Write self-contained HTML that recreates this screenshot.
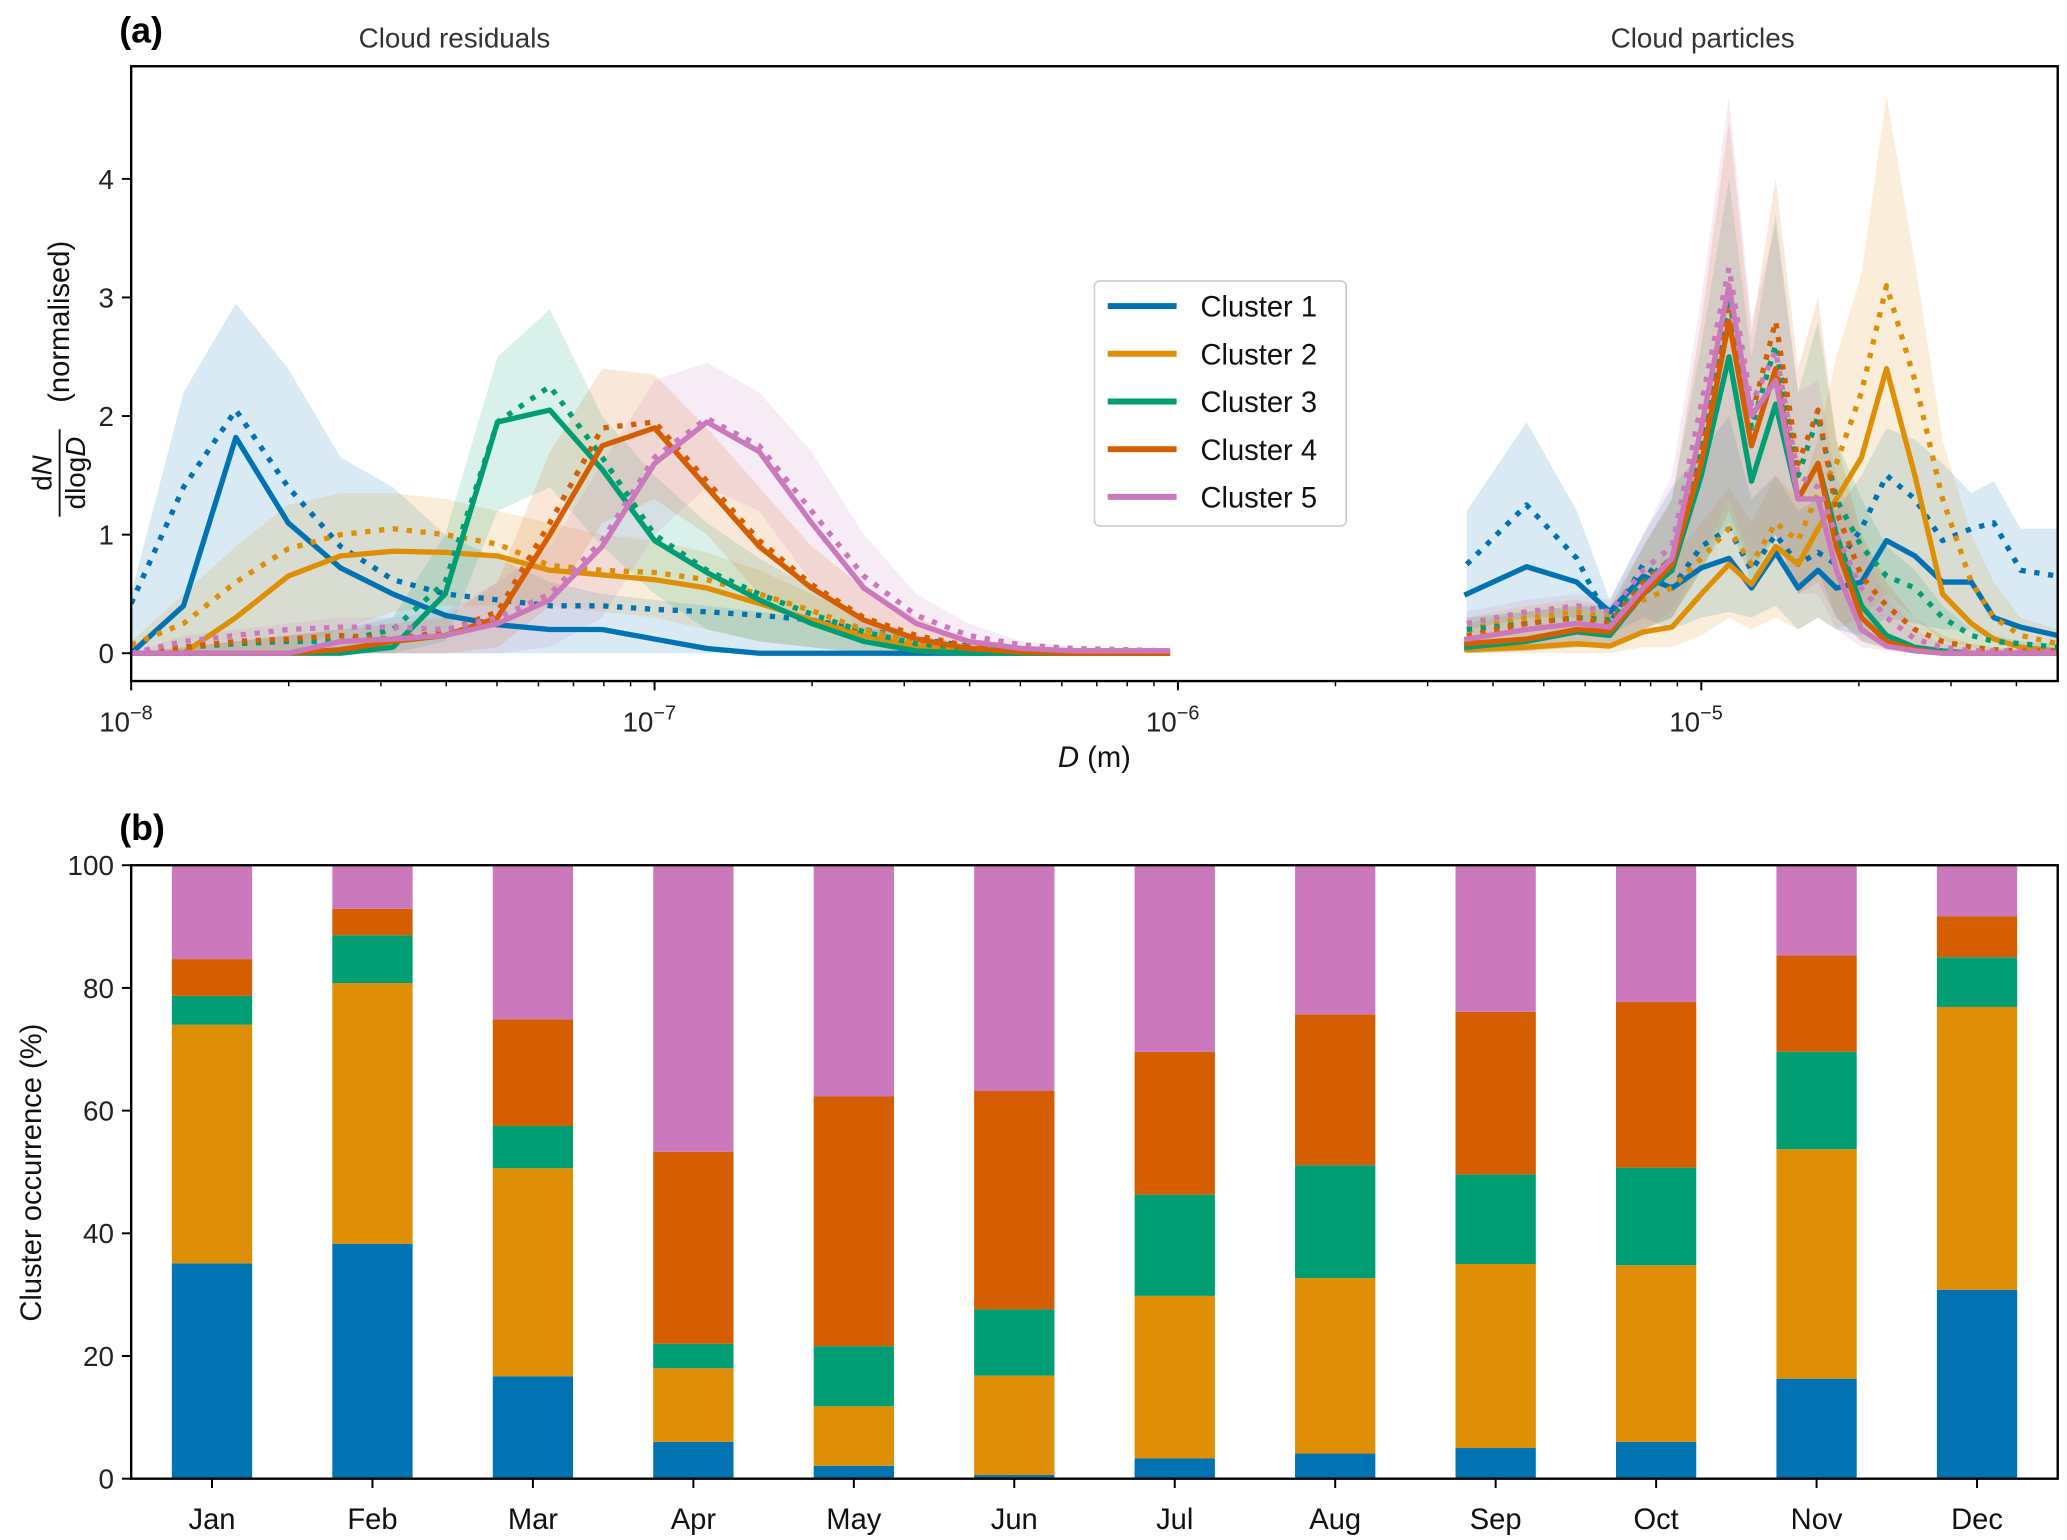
<!DOCTYPE html>
<html><head><meta charset="utf-8">
<style>
html,body{margin:0;padding:0;background:#fff;}
svg{display:block;font-family:"Liberation Sans","DejaVu Sans",sans-serif;}
</style></head>
<body>
<svg id="fig" xmlns="http://www.w3.org/2000/svg" width="2067" height="1540" viewBox="0 0 1560 1162.26">
<defs>
<clipPath id="clipA"><rect x="99" y="50" width="1454" height="464"/></clipPath>
</defs>
<g id="panelA"></g>
<g id="panelB"></g>
</svg>
<script>
// ---------- Panel (a) data ----------
const colors = ["#0173b2","#de8f05","#029e73","#d55e00","#cc78bc"];
const clusterNames = ["Cluster 1","Cluster 2","Cluster 3","Cluster 4","Cluster 5"];
const logDLeft = [-8.0,-7.9,-7.8,-7.7,-7.6,-7.5,-7.4,-7.3,-7.2,-7.1,-7.0,-6.9,-6.8,-6.7,-6.6,-6.5,-6.4,-6.3,-6.2,-6.1,-6.02];
const logDRight = [-5.448,-5.334,-5.238,-5.175,-5.111,-5.056,-5.0,-4.947,-4.904,-4.858,-4.815,-4.777,-4.742,-4.694,-4.646,-4.592,-4.539,-4.484,-4.441,-4.390,-4.319];
const solidLeft = [
 [0,0.4,1.82,1.1,0.72,0.5,0.32,0.24,0.2,0.2,0.12,0.04,0,0,0,0,0,0,0,0,0],
 [0,0,0.3,0.65,0.82,0.86,0.85,0.82,0.7,0.66,0.62,0.55,0.42,0.28,0.15,0.06,0.02,0,0,0,0],
 [0,0,0,0,0,0.05,0.5,1.95,2.05,1.55,0.95,0.68,0.45,0.25,0.1,0.02,0,0,0,0,0],
 [0,0,0,0,0.03,0.1,0.15,0.3,1.0,1.75,1.9,1.4,0.9,0.55,0.28,0.12,0.04,0.01,0,0,0],
 [0,0,0,0,0.1,0.12,0.15,0.25,0.45,0.9,1.6,1.95,1.7,1.1,0.55,0.25,0.1,0.04,0.02,0.02,0.02]];
const dottedLeft = [
 [0.42,1.4,2.05,1.4,0.9,0.62,0.5,0.45,0.4,0.4,0.37,0.35,0.32,0.28,0.2,0.12,0.06,0.03,0.02,0.02,0.02],
 [0.07,0.25,0.6,0.88,1.0,1.05,1.0,0.92,0.74,0.7,0.68,0.62,0.5,0.36,0.2,0.1,0.05,0.03,0.02,0.02,0.02],
 [0,0.05,0.08,0.1,0.1,0.2,0.6,1.95,2.25,1.65,1.0,0.7,0.5,0.33,0.18,0.08,0.04,0.02,0.02,0.02,0.02],
 [0,0.05,0.1,0.12,0.15,0.12,0.18,0.35,1.1,1.9,1.95,1.45,0.95,0.58,0.3,0.15,0.06,0.03,0.02,0.02,0.02],
 [0,0.1,0.15,0.2,0.22,0.22,0.2,0.3,0.5,0.95,1.65,1.98,1.75,1.2,0.65,0.32,0.15,0.07,0.04,0.03,0.02]];
const bandUpLeft = [
 [0.5,2.2,2.95,2.4,1.65,1.4,1.0,0.8,0.6,0.5,0.45,0.4,0.35,0.3,0.22,0.14,0.08,0.05,0.04,0.03,0.03],
 [0.1,0.5,0.9,1.25,1.35,1.35,1.3,1.2,1.1,1.0,0.95,0.85,0.7,0.5,0.3,0.15,0.08,0.05,0.04,0.03,0.03],
 [0,0.05,0.1,0.15,0.2,0.3,1.0,2.5,2.9,2.0,1.5,1.1,0.8,0.55,0.3,0.15,0.05,0.04,0.03,0.03,0.03],
 [0,0.05,0.1,0.15,0.2,0.25,0.3,0.6,1.7,2.4,2.35,1.9,1.4,0.9,0.55,0.3,0.1,0.05,0.04,0.03,0.03],
 [0,0.15,0.2,0.25,0.3,0.3,0.35,0.6,0.9,1.6,2.3,2.45,2.2,1.7,1.0,0.5,0.25,0.1,0.05,0.04,0.03]];
const bandLoLeft = [
 [0,0,0,0,0,0,0,0,0,0,0,0,0,0,0,0,0,0,0,0,0],
 [0,0,0,0,0.2,0.35,0.4,0.4,0.4,0.35,0.3,0.2,0.1,0.05,0,0,0,0,0,0,0],
 [0,0,0,0,0,0,0.1,1.2,1.4,0.9,0.5,0.2,0.1,0.05,0,0,0,0,0,0,0],
 [0,0,0,0,0,0,0,0.05,0.4,1.1,1.3,1.0,0.5,0.25,0.1,0,0,0,0,0,0],
 [0,0,0,0,0,0,0,0,0.05,0.3,1.0,1.4,1.2,0.6,0.2,0.05,0,0,0,0,0]];
const solidRight = [
 [0.5,0.73,0.6,0.35,0.65,0.55,0.72,0.8,0.55,0.85,0.55,0.7,0.55,0.6,0.95,0.82,0.6,0.6,0.3,0.22,0.15],
 [0.03,0.05,0.08,0.06,0.18,0.22,0.5,0.75,0.58,0.9,0.75,1.05,1.3,1.65,2.4,1.5,0.5,0.25,0.12,0.05,0.02],
 [0.05,0.1,0.18,0.15,0.5,0.7,1.5,2.5,1.45,2.1,1.3,1.6,1.0,0.4,0.15,0.05,0.02,0,0,0,0],
 [0.08,0.12,0.2,0.18,0.5,0.75,1.6,2.8,1.75,2.4,1.3,1.6,0.9,0.3,0.1,0.03,0,0,0,0,0],
 [0.12,0.2,0.25,0.22,0.55,0.8,1.9,3.1,2.0,2.3,1.3,1.3,0.7,0.2,0.06,0.02,0,0,0,0,0]];
const dottedRight = [
 [0.75,1.25,0.8,0.25,0.75,0.55,0.9,1.05,0.7,1.0,0.75,0.85,0.75,1.05,1.5,1.3,0.95,1.05,1.1,0.7,0.65],
 [0.2,0.3,0.35,0.3,0.45,0.55,0.8,1.05,0.75,1.1,0.95,1.35,1.6,2.2,3.1,2.3,1.3,0.6,0.3,0.15,0.08],
 [0.2,0.25,0.3,0.28,0.6,0.8,1.7,3.0,1.9,2.6,1.5,2.0,1.3,0.9,0.65,0.55,0.3,0.15,0.1,0.08,0.05],
 [0.15,0.25,0.3,0.25,0.6,0.8,1.8,3.0,2.0,2.8,1.6,2.05,1.2,0.65,0.4,0.2,0.1,0.05,0.03,0.02,0.02],
 [0.25,0.35,0.4,0.35,0.7,0.9,2.1,3.25,2.1,2.55,1.5,1.4,1.0,0.55,0.3,0.12,0.05,0.02,0.02,0.02,0.02]];
const bandUpRight = [
 [1.2,1.95,1.2,0.45,1.0,1.4,1.7,2.0,1.3,1.5,1.2,1.3,1.2,1.5,1.9,1.8,1.6,1.35,1.45,1.05,1.05],
 [0.3,0.4,0.45,0.4,0.6,0.8,1.1,1.4,1.1,1.5,1.3,1.8,2.5,3.2,4.7,3.3,1.8,1.0,0.6,0.3,0.2],
 [0.3,0.35,0.4,0.4,0.9,1.3,2.6,4.0,2.5,3.7,2.2,2.8,1.8,1.3,0.9,0.7,0.4,0.2,0.15,0.1,0.08],
 [0.25,0.35,0.4,0.35,0.9,1.3,2.8,4.5,2.7,4.0,2.4,3.0,1.8,1.0,0.6,0.3,0.15,0.08,0.05,0.03,0.03],
 [0.35,0.45,0.5,0.45,1.0,1.5,3.0,4.7,2.8,3.6,2.2,2.3,1.5,0.9,0.5,0.2,0.08,0.04,0.03,0.03,0.03]];
const bandLoRight = [
 [0.2,0.3,0.3,0.15,0.3,0.2,0.3,0.35,0.3,0.4,0.2,0.3,0.2,0.15,0.3,0.25,0.2,0.2,0.1,0.05,0.05],
 [0,0,0,0,0.05,0.05,0.15,0.3,0.2,0.3,0.2,0.3,0.2,0.3,0.5,0.3,0.1,0.05,0,0,0],
 [0,0.02,0.05,0.05,0.2,0.3,0.7,1.1,0.6,1.0,0.5,0.7,0.3,0.1,0.05,0,0,0,0,0,0],
 [0,0.02,0.05,0.05,0.2,0.3,0.7,1.2,0.7,1.0,0.5,0.6,0.3,0.1,0.03,0,0,0,0,0,0],
 [0,0.05,0.08,0.08,0.2,0.35,0.8,1.3,0.8,1.0,0.5,0.5,0.2,0.05,0.02,0,0,0,0,0,0]];
const yTicksA = [0,1,2,3,4];
const xDecadesA = [-8,-7,-6,-5];
const xDecadeLabels = ["\u22128","\u22127","\u22126","\u22125"];

// ---------- Panel (b) data ----------
const months = ["Jan","Feb","Mar","Apr","May","Jun","Jul","Aug","Sep","Oct","Nov","Dec"];
const c1 = [35.1,38.3,16.7,6.0,2.1,0.6,3.3,4.1,5.0,6.0,16.3,30.8];
const c2 = [38.9,42.5,33.9,12.0,9.7,16.2,26.5,28.6,30.0,28.8,37.4,46.1];
const c3 = [4.7,7.8,6.9,4.0,9.8,10.8,16.5,18.4,14.6,15.9,15.9,8.1];
const c4 = [6.0,4.3,17.4,31.3,40.7,35.6,23.3,24.6,26.5,27.0,15.7,6.7];
const c5 = [15.3,7.1,25.1,46.7,37.7,36.8,30.4,24.3,23.9,22.3,14.7,8.3];
const yTicksB = [0,20,40,60,80,100];

const NS="http://www.w3.org/2000/svg";
function mk(tag, attrs, parent){const e=document.createElementNS(NS,tag);for(const k in attrs)e.setAttribute(k,attrs[k]);parent.appendChild(e);return e;}

// ---------- Panel (a) ----------
const A = document.getElementById('panelA');
const ax = {l:99,r:1553,t:50,b:514};
const xA = lg => 99 + (lg + 8) * 395;
const yA = v => 493 - v * 89.5;

const plotG = mk('g',{'clip-path':'url(#clipA)'},A);



function bandPath(xs, up, lo){
  let d='';
  xs.forEach((lg,i)=>{d+=(i?'L':'M')+xA(lg).toFixed(1)+','+yA(up[i]).toFixed(1);});
  for(let i=xs.length-1;i>=0;i--){d+='L'+xA(xs[i]).toFixed(1)+','+yA(lo[i]).toFixed(1);}
  return d+'Z';
}
function linePts(xs, vals){return xs.map((lg,i)=>xA(lg).toFixed(1)+','+yA(vals[i]).toFixed(1)).join(' ');}

for(let c=0;c<5;c++){
  const b1 = mk('path',{d:bandPath(logDLeft,bandUpLeft[c],bandLoLeft[c]),fill:colors[c],'fill-opacity':0.15,stroke:'none'},plotG);
  
  
  const b2 = mk('path',{d:bandPath(logDRight,bandUpRight[c],bandLoRight[c]),fill:colors[c],'fill-opacity':0.15,stroke:'none'},plotG);
  
  
}
for(let c=0;c<5;c++){
  [[logDLeft,solidLeft,dottedLeft,'residuals'],[logDRight,solidRight,dottedRight,'particles']].forEach(([xs,sol,dot,nm])=>{
    const ld = mk('polyline',{points:linePts(xs,dot[c]),fill:'none',stroke:colors[c],'stroke-width':4,'stroke-dasharray':'4,6.5','stroke-linejoin':'round'},plotG);
    
    
    const ls = mk('polyline',{points:linePts(xs,sol[c]),fill:'none',stroke:colors[c],'stroke-width':4,'stroke-linejoin':'round','stroke-linecap':'square'},plotG);
    
    
  });
}
const frA = mk('rect',{x:ax.l,y:ax.t,width:ax.r-ax.l,height:ax.b-ax.t,fill:'none',stroke:'#000','stroke-width':1.8},A);


yTicksA.forEach(v=>{
  const y=yA(v);
  mk('line',{x1:ax.l-7,x2:ax.l,y1:y,y2:y,stroke:'#000','stroke-width':1.5},A);
  const t=mk('text',{x:ax.l-13,y:y+7.5,'text-anchor':'end','font-size':21,fill:'#222'},A);
  t.textContent=v;
  
  
});
xDecadesA.forEach((d,i)=>{
  const x=xA(d);
  mk('line',{x1:x,x2:x,y1:ax.b,y2:ax.b+7,stroke:'#000','stroke-width':1.5},A);
  const t=mk('text',{x:x-4,y:ax.b+38,'text-anchor':'middle','font-size':21,fill:'#222'},A);
  
  
  t.textContent='10';
  const s=mk('tspan',{dy:-9,'font-size':15},t); s.textContent=xDecadeLabels[i];
  for(let m=2;m<=9;m++){
    const xm=xA(d+Math.log10(m));
    if(xm<=ax.r) mk('line',{x1:xm,x2:xm,y1:ax.b,y2:ax.b+4,stroke:'#000','stroke-width':1.1},A);
  }
});
let t;
t=mk('text',{x:90,y:32,'font-size':27,'font-weight':'bold',fill:'#000'},A); t.textContent='(a)';
 
t=mk('text',{x:343,y:36,'text-anchor':'middle','font-size':21,fill:'#333'},A); t.textContent='Cloud residuals';
 
t=mk('text',{x:1285,y:36,'text-anchor':'middle','font-size':21,fill:'#333'},A); t.textContent='Cloud particles';
 
t=mk('text',{x:826,y:579,'text-anchor':'middle','font-size':22,fill:'#111'},A);
 
t.innerHTML='<tspan font-style="italic">D</tspan> (m)';
const yl = mk('g',{transform:'translate(44,282) rotate(-90)'},A);
 
t=mk('text',{x:-75,y:-5,'text-anchor':'middle','font-size':21,fill:'#111'},yl); t.innerHTML='d<tspan font-style="italic">N</tspan>';
mk('line',{x1:-108,x2:-42,y1:1,y2:1,stroke:'#111','stroke-width':1.4},yl);
t=mk('text',{x:-75,y:20,'text-anchor':'middle','font-size':21,fill:'#111'},yl); t.innerHTML='dlog<tspan font-style="italic">D</tspan>';
t=mk('text',{x:-22,y:8,'text-anchor':'start','font-size':22,fill:'#111'},yl); t.textContent='(normalised)';
const lg = mk('g',{},A);
 
mk('rect',{x:826,y:212,width:190,height:185,rx:4,fill:'#fff','fill-opacity':0.85,stroke:'#ccc','stroke-width':1.2},lg);
clusterNames.forEach((n,i)=>{
  const y=231+i*36;
  const le=mk('g',{},lg);
  
  
  mk('line',{x1:836,x2:888,y1:y,y2:y,stroke:colors[i],'stroke-width':4.5},le);
  const tx=mk('text',{x:906,y:y+8,'font-size':22,fill:'#111'},le); tx.textContent=n;
});

// ---------- Panel (b) ----------
const B = document.getElementById('panelB');
const bx = {l:99,r:1553,t:653,b:1116};
const xB = i => 160 + i*121.1;
const yB = v => 1116 - v*4.63;
const series=[c1,c2,c3,c4,c5];
months.forEach((m,i)=>{
  let base=0;
  series.forEach((s,c)=>{
    const r=mk('rect',{x:xB(i)-30.3,y:yB(base+s[i]),width:60.6,height:yB(base)-yB(base+s[i]),fill:colors[c]},B);
    
    
    base+=s[i];
  });
  mk('line',{x1:xB(i),x2:xB(i),y1:bx.b,y2:bx.b+7,stroke:'#000','stroke-width':1.5},B);
  const tl=mk('text',{x:xB(i),y:bx.b+38,'text-anchor':'middle','font-size':22,fill:'#111'},B); tl.textContent=m;
   
});
const frB = mk('rect',{x:bx.l,y:bx.t,width:bx.r-bx.l,height:bx.b-bx.t,fill:'none',stroke:'#000','stroke-width':1.8},B);
 
yTicksB.forEach(v=>{
  const y=yB(v);
  mk('line',{x1:bx.l-7,x2:bx.l,y1:y,y2:y,stroke:'#000','stroke-width':1.5},B);
  const tl=mk('text',{x:bx.l-13,y:y+7.5,'text-anchor':'end','font-size':21,fill:'#222'},B); tl.textContent=v;
   
});
t=mk('text',{x:90,y:634,'font-size':27,'font-weight':'bold',fill:'#000'},B); t.textContent='(b)';
 
t=mk('text',{x:0,y:0,'text-anchor':'middle','font-size':22,fill:'#111',transform:'translate(31,885) rotate(-90)'},B);
t.textContent='Cluster occurrence (%)';
 
</script>
</body></html>
